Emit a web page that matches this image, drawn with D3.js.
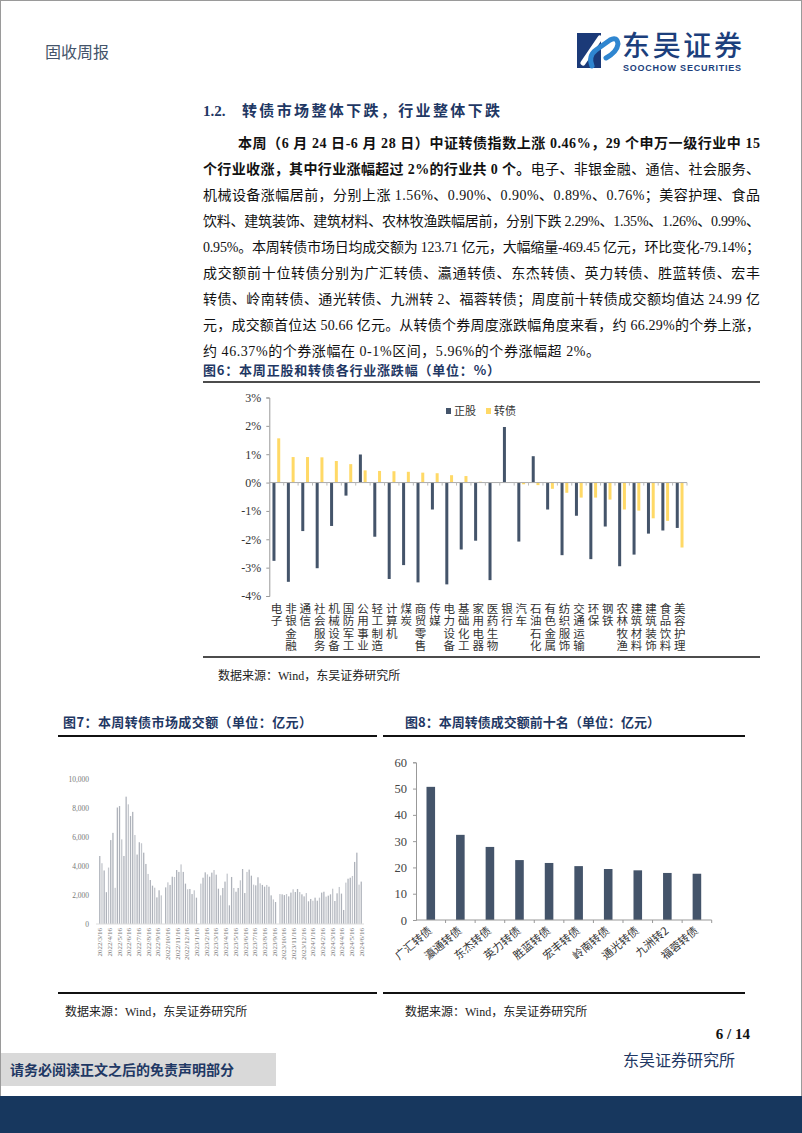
<!DOCTYPE html>
<html>
<head>
<meta charset="utf-8">
<script src="https://cdn.jsdelivr.net/npm/d3@7"></script>
<style>
  body { margin: 0; background: #fff; }
  svg { display: block; }
</style>
</head>
<body>
<script>
const W = 802, H = 1133;

// 图6 data
const industries = ["电子","非银金融","通信","社会服务","机械设备","国防军工","公用事业","轻工制造","计算机","煤炭",
  "商贸零售","传媒","电力设备","基础化工","家用电器","医药生物","银行","汽车","石油石化","有色金属",
  "纺织服饰","交通运输","环保","钢铁","农林牧渔","建筑材料","建筑装饰","食品饮料","美容护理"];
const stockChg = [-2.76,-3.50,-1.71,-3.02,-1.53,-0.46,0.99,-1.91,-3.40,-2.91,
  -3.52,-0.95,-3.59,-2.36,-2.05,-3.44,1.96,-2.08,0.93,-0.95,
  -2.56,-1.17,-2.70,-1.55,-2.95,-2.54,-1.80,-1.69,-1.60];
const cbChg = [1.56,0.90,0.90,0.89,0.76,0.65,0.43,0.41,0.40,0.38,
  0.35,0.33,0.26,0.23,0.03,0.01,-0.01,-0.06,-0.09,-0.22,
  -0.36,-0.53,-0.53,-0.60,-0.95,-0.99,-1.26,-1.35,-2.29];
const pctTicks = [3,2,1,0,-1,-2,-3,-4];

// 图7 data
const months = ["2022/3/16","2022/4/16","2022/5/16","2022/6/16","2022/7/16","2022/8/16","2022/9/16","2022/10/16",
  "2022/11/16","2022/12/16","2023/1/16","2023/2/16","2023/3/16","2023/4/16","2023/5/16","2023/6/16","2023/7/16",
  "2023/8/16","2023/9/16","2023/10/16","2023/11/16","2023/12/16","2024/1/16","2024/2/16","2024/3/16","2024/4/16",
  "2024/5/16","2024/6/16"];
const weeklyVol = [4700,4200,3700,2200,3900,5800,6300,2500,8050,8150,5850,4700,8800,8270,7460,7750,6150,4800,5650,5580,
  4930,4150,3460,3040,2650,2510,1840,2330,1980,0,
  2530,2880,2700,3270,3250,3730,3600,4120,3600,2790,2400,2420,2070,2330,1820,0,
  2790,3200,3570,3430,3270,3550,3730,3410,2440,1980,2490,2930,3480,1290,3250,2490,2230,2490,3020,3800,
  2140,3600,3760,3340,2720,2670,3230,2810,2700,2580,2700,2580,1980,1700,1520,0,
  2070,2050,2000,2070,1910,2170,2400,2210,2420,2210,2050,1910,2140,1570,1730,1610,1820,1610,1820,
  2170,2230,1890,1960,2050,2440,1590,2120,2560,2100,970,2860,3130,3200,3320,4290,4930,2720,2930];
const volTicks = [0,2000,4000,6000,8000,10000];

// 图8 data
const topBonds = ["广汇转债","瀛通转债","东杰转债","英力转债","胜蓝转债","宏丰转债","岭南转债","通光转债","九洲转2","福蓉转债"];
const topVol = [50.66,32.4,27.8,22.8,21.7,20.5,19.4,18.9,17.9,17.6];
const topTicks = [0,10,20,30,40,50,60];

const serif = "'Liberation Serif','Noto Sans CJK SC',serif";
const cjk = "'Noto Sans CJK SC',sans-serif";
const navy = "#1f3864";

const svg = d3.select("body").append("svg").attr("width", W).attr("height", H);

svg.append("rect").attr("x", 0.5).attr("y", 0.5).attr("width", W - 1).attr("height", H - 1)
  .attr("fill", "#fff").attr("stroke", "#9a9a9a");

// header
svg.append("text").attr("x", 45).attr("y", 58).attr("font-family", cjk).attr("font-size", 16)
  .attr("fill", "#44546a").text("固收周报");

const logo = svg.append("g");
logo.append("rect").attr("x", 577).attr("y", 33).attr("width", 24).attr("height", 35).attr("fill", "#1b3a78");
logo.append("path").attr("d", "M583 63 L600 38").attr("stroke", "#fff").attr("stroke-width", 5).attr("stroke-linecap", "round");
logo.append("path").attr("d", "M592 66 Q588 56 596 50 L610 40 Q617 36 618 44 Q617 52 606 58")
  .attr("fill", "none").attr("stroke", "#2f86d0").attr("stroke-width", 5).attr("stroke-linecap", "round");
logo.append("text").attr("x", 622).attr("y", 56).attr("font-family", cjk).attr("font-size", 28)
  .attr("font-weight", 500).attr("fill", "#1c3f7c").attr("textLength", 120).text("东吴证券");
logo.append("text").attr("x", 623).attr("y", 71).attr("font-family", "'Liberation Sans',sans-serif")
  .attr("font-size", 9).attr("font-weight", "bold").attr("fill", "#1c3f7c").attr("textLength", 118)
  .text("SOOCHOW SECURITIES");

// section heading
svg.append("text").attr("x", 203).attr("y", 116).attr("font-family", serif).attr("font-size", 15)
  .attr("font-weight", "bold").attr("fill", navy).text("1.2.");
svg.append("text").attr("x", 242).attr("y", 116).attr("font-family", cjk).attr("font-size", 15)
  .attr("font-weight", "bold").attr("fill", navy).attr("textLength", 258).text("转债市场整体下跌，行业整体下跌");

// paragraph
const para = [
  {x: 238, w: 522, parts: [["本周（6 月 24 日-6 月 28 日）中证转债指数上涨 0.46%，29 个申万一级行业中 15", true]]},
  {x: 203, w: 557, parts: [["个行业收涨，其中行业涨幅超过 2%的行业共 0 个。", true], ["电子、非银金融、通信、社会服务、", false]]},
  {x: 203, w: 557, parts: [["机械设备涨幅居前，分别上涨 1.56%、0.90%、0.90%、0.89%、0.76%；美容护理、食品", false]]},
  {x: 203, w: 557, parts: [["饮料、建筑装饰、建筑材料、农林牧渔跌幅居前，分别下跌 2.29%、1.35%、1.26%、0.99%、", false]]},
  {x: 203, w: 557, parts: [["0.95%。本周转债市场日均成交额为 123.71 亿元，大幅缩量-469.45 亿元，环比变化-79.14%；", false]]},
  {x: 203, w: 557, parts: [["成交额前十位转债分别为广汇转债、瀛通转债、东杰转债、英力转债、胜蓝转债、宏丰", false]]},
  {x: 203, w: 557, parts: [["转债、岭南转债、通光转债、九洲转 2、福蓉转债；周度前十转债成交额均值达 24.99 亿", false]]},
  {x: 203, w: 557, parts: [["元，成交额首位达 50.66 亿元。从转债个券周度涨跌幅角度来看，约 66.29%的个券上涨，", false]]},
  {x: 203, w: 397, parts: [["约 46.37%的个券涨幅在 0-1%区间，5.96%的个券涨幅超 2%。", false]]}
];
para.forEach((ln, i) => {
  const t = svg.append("text").attr("x", ln.x).attr("y", 148 + i * 26)
    .attr("font-family", serif).attr("font-size", 14).attr("fill", "#111")
    .attr("textLength", ln.w).attr("lengthAdjust", "spacing");
  ln.parts.forEach(p => t.append("tspan").attr("font-weight", p[1] ? "bold" : "normal").text(p[0]));
});

// captions and rules
function caption(x, y, w, txt) {
  svg.append("text").attr("x", x).attr("y", y).attr("font-family", cjk).attr("font-size", 13)
    .attr("font-weight", "bold").attr("fill", navy).attr("textLength", w).text(txt);
}
function rule(x1, x2, y, sw) {
  svg.append("line").attr("x1", x1).attr("x2", x2).attr("y1", y).attr("y2", y)
    .attr("stroke", "#111").attr("stroke-width", sw);
}
function source(x, y) {
  svg.append("text").attr("x", x).attr("y", y).attr("font-family", serif).attr("font-size", 12)
    .attr("fill", "#222").text("数据来源：Wind，东吴证券研究所");
}

caption(203, 375, 297, "图6：本周正股和转债各行业涨跌幅（单位：%）");
rule(203, 760, 382, 1.5);
rule(203, 760, 657, 1.5);
source(218, 680);

// ---- 图6
const x6 = d3.scaleBand().domain(industries).range([269.3, 687]);
const y6 = d3.scaleLinear().domain([-4, 3]).range([596, 397.5]);
const g6 = svg.append("g");

g6.append("g").attr("transform", "translate(269.3,0)")
  .call(d3.axisLeft(y6).tickValues(pctTicks).tickSize(3).tickFormat(d => d + "%"))
  .call(g => g.select(".domain").attr("stroke", "#999"))
  .call(g => g.selectAll(".tick line").attr("stroke", "#999"))
  .call(g => g.selectAll("text").attr("font-family", serif).attr("font-size", 12).attr("fill", "#333").attr("dx", -2));

g6.append("g").selectAll("rect").data(industries).join("rect")
  .attr("x", d => x6(d) + x6.bandwidth() * 0.22)
  .attr("width", 3)
  .attr("y", (d, i) => y6(Math.max(0, stockChg[i])))
  .attr("height", (d, i) => Math.abs(y6(stockChg[i]) - y6(0)))
  .attr("fill", "#44546a");
g6.append("g").selectAll("rect").data(industries).join("rect")
  .attr("x", d => x6(d) + x6.bandwidth() * 0.55)
  .attr("width", 3)
  .attr("y", (d, i) => y6(Math.max(0, cbChg[i])))
  .attr("height", (d, i) => Math.abs(y6(cbChg[i]) - y6(0)))
  .attr("fill", "#ffd966");

g6.append("line").attr("x1", 269.3).attr("x2", 687).attr("y1", y6(0)).attr("y2", y6(0))
  .attr("stroke", "#aaa");
g6.append("g").selectAll("line").data(industries).join("line")
  .attr("x1", (d, i) => 269.3 + x6.step() * (i + 1)).attr("x2", (d, i) => 269.3 + x6.step() * (i + 1))
  .attr("y1", y6(0)).attr("y2", y6(0) + 3).attr("stroke", "#bbb");

// vertical category labels, one text per industry
g6.append("g").selectAll("text").data(industries).join("text")
  .attr("x", d => x6(d) + x6.bandwidth() / 2)
  .attr("y", 603)
  .style("writing-mode", "vertical-rl")
  .style("text-orientation", "upright")
  .style("letter-spacing", "0.8px")
  .attr("font-family", cjk).attr("font-size", 11.5)
  .attr("fill", "#333").text(d => d);

const leg = g6.append("g").attr("font-family", cjk).attr("font-size", 11).attr("fill", "#333");
leg.append("rect").attr("x", 446).attr("y", 408).attr("width", 5).attr("height", 6).attr("fill", "#44546a");
leg.append("text").attr("x", 454).attr("y", 415).text("正股");
leg.append("rect").attr("x", 486).attr("y", 408).attr("width", 5).attr("height", 6).attr("fill", "#ffd966");
leg.append("text").attr("x", 494).attr("y", 415).text("转债");

// ---- 图7
caption(63, 727, 249, "图7：本周转债市场成交额（单位：亿元）");
rule(58, 377, 736, 2);
rule(58, 377, 993, 2);
source(65, 1016);

const idx = weeklyVol.map((d, i) => i);
const x7 = d3.scaleBand().domain(idx).range([98.2, 362.8]).padding(0.42);
const y7 = d3.scaleLinear().domain([0, 10000]).range([924, 779.3]);
const g7 = svg.append("g");

g7.append("g").attr("transform", "translate(92,0)")
  .call(d3.axisLeft(y7).tickValues(volTicks).tickSize(0).tickFormat(d3.format(",")))
  .call(g => g.select(".domain").remove())
  .call(g => g.selectAll("text").attr("font-family", serif).attr("font-size", 7.5).attr("fill", "#777"));

g7.append("g").selectAll("rect").data(weeklyVol).join("rect")
  .attr("x", (d, i) => x7(i))
  .attr("width", x7.bandwidth())
  .attr("y", d => y7(d))
  .attr("height", d => y7(0) - y7(d))
  .attr("fill", (d, i) => i % 3 === 1 ? "#c3c6cc" : "#aeb2ba");

g7.append("line").attr("x1", 96).attr("x2", 364).attr("y1", y7(0)).attr("y2", y7(0))
  .attr("stroke", "#ddd");

const xm = d3.scalePoint().domain(months).range([x7(0) + x7.bandwidth() / 2, x7(weeklyVol.length - 1) + x7.bandwidth() / 2]);
g7.append("g").selectAll("text").data(months).join("text")
  .attr("transform", d => `translate(${xm(d) + 2.5},928) rotate(-90)`)
  .attr("text-anchor", "end").attr("font-family", serif).attr("font-size", 7)
  .attr("fill", "#777").text(d => d);

// ---- 图8
caption(405, 727, 255, "图8：本周转债成交额前十名（单位：亿元）");
rule(383, 745, 736, 2);
rule(383, 745, 993, 2);
source(405, 1016);

const x8 = d3.scaleBand().domain(topBonds).range([416, 711.7]).paddingInner(0.71).paddingOuter(0.355);
const y8 = d3.scaleLinear().domain([0, 60]).range([920, 762.3]);
const g8 = svg.append("g");

g8.append("g").attr("transform", "translate(416,0)")
  .call(d3.axisLeft(y8).tickValues(topTicks).tickSize(3))
  .call(g => g.select(".domain").attr("stroke", "#999"))
  .call(g => g.selectAll(".tick line").attr("stroke", "#999"))
  .call(g => g.selectAll("text").attr("font-family", serif).attr("font-size", 12.5).attr("fill", "#444").attr("dx", -3));

g8.append("g").selectAll("rect").data(topBonds).join("rect")
  .attr("x", d => x8(d))
  .attr("width", x8.bandwidth())
  .attr("y", (d, i) => y8(topVol[i]))
  .attr("height", (d, i) => y8(0) - y8(topVol[i]))
  .attr("fill", "#44546a");

g8.append("line").attr("x1", 416).attr("x2", 711.7).attr("y1", y8(0)).attr("y2", y8(0)).attr("stroke", "#999");
g8.append("g").selectAll("line").data(topBonds).join("line")
  .attr("x1", (d, i) => 416 + x8.step() * (i + 1)).attr("x2", (d, i) => 416 + x8.step() * (i + 1))
  .attr("y1", y8(0)).attr("y2", y8(0) + 3).attr("stroke", "#999");

g8.append("g").selectAll("text").data(topBonds).join("text")
  .attr("transform", d => `translate(${x8(d) + x8.bandwidth() / 2 + 2},932) rotate(-40)`)
  .attr("text-anchor", "end").attr("font-family", cjk).attr("font-size", 11)
  .attr("fill", "#333").text(d => d);

// footer
svg.append("text").attr("x", 750).attr("y", 1039).attr("text-anchor", "end").attr("font-family", serif)
  .attr("font-size", 15).attr("font-weight", "bold").attr("fill", "#111").text("6 / 14");
svg.append("text").attr("x", 623).attr("y", 1066).attr("font-family", cjk).attr("font-size", 16)
  .attr("fill", navy).attr("textLength", 112).text("东吴证券研究所");
svg.append("rect").attr("x", 0).attr("y", 1096).attr("width", W).attr("height", H - 1096).attr("fill", "#17375e");
svg.append("rect").attr("x", 1).attr("y", 1053).attr("width", 275).attr("height", 33).attr("fill", "#d9d9d9");
svg.append("text").attr("x", 10).attr("y", 1075).attr("font-family", cjk).attr("font-size", 14)
  .attr("font-weight", "bold").attr("fill", navy).text("请务必阅读正文之后的免责声明部分");
</script>
</body>
</html>
